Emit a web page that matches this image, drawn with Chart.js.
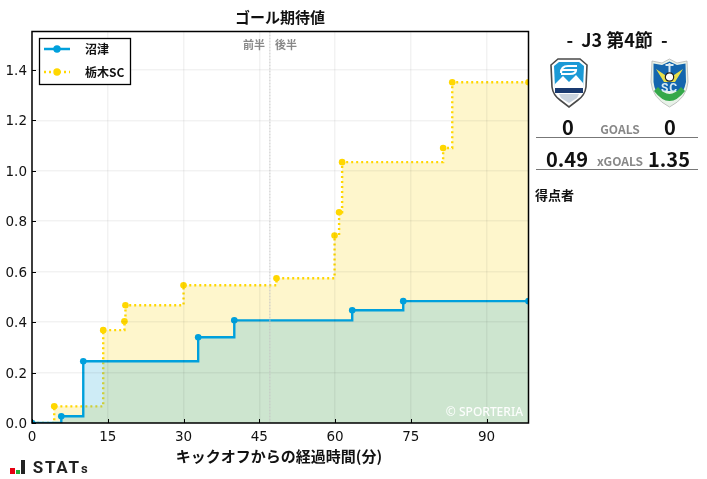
<!DOCTYPE html>
<html lang="ja">
<head>
<meta charset="utf-8">
<script src="https://cdn.jsdelivr.net/npm/chart.js@4"></script>
<style>
body { margin: 0; background: #fff; font-family: "Noto Sans CJK JP", sans-serif; }
#wrap { position: relative; width: 707px; height: 479px; overflow: hidden; }
canvas { position: absolute; left: 0; top: 0; }
.t { position: absolute; transform: translate(-50%, -50%); font-weight: 700; color: #111; white-space: nowrap; line-height: 1; }
.g { color: #888; font-size: 12px; }
.n { font-size: 20px; }
.hr { position: absolute; left: 536px; width: 162px; height: 1px; background: #777; }
svg { position: absolute; }
</style>
</head>
<body>
<div id="wrap">
  <canvas id="xgChart" width="707" height="479"></canvas>
  <div class="t" style="left:617px;top:39px;font-size:18px;">-&nbsp; J3 第4節 &nbsp;-</div>

  <!-- エンブレム(簡略) -->
  <svg style="left:550px;top:57px" width="38" height="51" viewBox="0 0 38 51">
    <path d="M8 2 L30 2 L37 8 L36 30 Q35 38 28 43 L19 50 L10 43 Q3 38 2 30 L1 8 Z" fill="#fff" stroke="#4a4a4a" stroke-width="1.6"/>
    <path d="M9 5 L29 5 L34 9 L33 31 L5 31 L4 9 Z" fill="#1c9ad6"/>
    <path d="M5 31 L5 27 L13 19 L19 25 L26 18 L33 26 L33 31 Z" fill="#fff"/>
    <path d="M11 16 Q11 9 18 9 L27 9 M12 13 L26 13 Q26 17 20 17 L11 17" fill="none" stroke="#fff" stroke-width="2.2"/>
    <rect x="5" y="31" width="28" height="5" fill="#1a3a70"/>
    <path d="M9 37 L29 37 L27 41 L19 46 L11 41 Z" fill="#c9d3de"/>
  </svg>
  <svg style="left:650px;top:58px" width="39" height="50" viewBox="0 0 39 50">
    <path d="M19.5 1 L27 5 L37 3 L38 24 Q37 40 19.5 49 Q2 40 1 24 L2 3 L12 5 Z" fill="#e8f2e8" stroke="#b5b5b5" stroke-width="0.8"/>
    <path d="M19.5 3.5 L27 7 L35.5 5.5 L36 24 Q35 29 33 33 L6 33 Q4 29 3.5 24 L3.5 5.5 L12 7 Z" fill="#1466ae"/>
    <path d="M6 11 L19.5 20 L33 11 L25 24 L14 24 Z" fill="#e9e04a"/>
    <rect x="18.5" y="5" width="2" height="11" fill="#d8e8f0"/>
    <rect x="15.5" y="6" width="8" height="2" fill="#d8e8f0"/>
    <circle cx="19.5" cy="19" r="4.2" fill="#fff" stroke="#222" stroke-width="1.2"/>
    <path d="M4 33 Q19.5 53 35 33 L31 29 Q19.5 43 8 29 Z" fill="#35a84a"/>
    <text x="19.5" y="34" text-anchor="middle" font-size="12" font-weight="700" fill="#d5eaf5" font-family="Roboto" letter-spacing="1">SC</text>
  </svg>

  <div class="t n" style="left:568px;top:127px;">0</div>
  <div class="t g" style="left:620px;top:129px;">GOALS</div>
  <div class="t n" style="left:670px;top:127px;">0</div>
  <div class="hr" style="top:137px;"></div>
  <div class="t n" style="left:567px;top:159px;">0.49</div>
  <div class="t g" style="left:620px;top:161px;">xGOALS</div>
  <div class="t n" style="left:669px;top:159px;">1.35</div>
  <div class="hr" style="top:169px;"></div>
  <div class="t" style="left:554.5px;top:194px;font-size:13px;">得点者</div>

  <!-- ロゴ -->
  <div style="position:absolute;left:10px;top:468px;width:5px;height:6px;background:#e60012;"></div>
  <div style="position:absolute;left:16px;top:470px;width:4px;height:4px;background:#22ac38;"></div>
  <div style="position:absolute;left:21px;top:460px;width:4px;height:14px;background:#222;"></div>
  <div class="t" style="left:61px;top:467px;font:700 17px 'Roboto';letter-spacing:1.8px;color:#222;">STAT<span style="font-size:13px">s</span></div>
</div>

<script>
// 経過時間(分)と累積xG
const numazuMin = [0, 5.8, 10.15, 32.9, 40.05, 63.4, 73.5, 98.3];
const numazuXg = [0, 0.027, 0.245, 0.34, 0.407, 0.447, 0.483, 0.483];
const tochigiMin = [0, 4.4, 14.1, 18.3, 18.5, 30, 48.4, 59.9, 60.8, 61.4, 81.4, 83.2, 98.3];
const tochigiXg = [0, 0.066, 0.368, 0.403, 0.467, 0.546, 0.574, 0.743, 0.835, 1.034, 1.09, 1.351, 1.351];
const xTicks = [0, 15, 30, 45, 60, 75, 90];
const yTicks = [0, 0.2, 0.4, 0.6, 0.8, 1.0, 1.2, 1.4];
const halfTime = 47.1;

const BLUE = '#00a0dc';
const YELLOW = '#ffd700';
const FONT_JP = '"Noto Sans CJK JP", sans-serif';

function toPoints(xs, ys) {
    return xs.map(function(x, i) { return {x: x, y: ys[i]}; });
}

// タイトル、枠、内向きの目盛り、凡例など
const overlay = {
    id: 'overlay',
    afterDraw: function(chart) {
        const ctx = chart.ctx;
        const a = chart.chartArea;
        const sx = chart.scales.x;
        const sy = chart.scales.y;
        ctx.save();

        // 前半・後半の区切り
        const hx = sx.getPixelForValue(halfTime);
        ctx.strokeStyle = '#c4c4c4';
        ctx.lineWidth = 1;
        ctx.setLineDash([2, 1]);
        ctx.beginPath();
        ctx.moveTo(hx, a.top);
        ctx.lineTo(hx, a.bottom);
        ctx.stroke();
        ctx.setLineDash([]);

        // 内向きの目盛り
        ctx.strokeStyle = '#000';
        ctx.lineWidth = 1;
        ctx.beginPath();
        xTicks.forEach(function(v) {
            const p = Math.round(sx.getPixelForValue(v)) + 0.5;
            ctx.moveTo(p, a.bottom);
            ctx.lineTo(p, a.bottom - 4);
        });
        yTicks.forEach(function(v) {
            const p = Math.round(sy.getPixelForValue(v)) + 0.5;
            ctx.moveTo(a.left, p);
            ctx.lineTo(a.left + 4, p);
        });
        ctx.stroke();

        // 枠
        ctx.lineWidth = 1.5;
        ctx.strokeRect(a.left, a.top, a.right - a.left, a.bottom - a.top);

        ctx.textBaseline = 'middle';
        ctx.textAlign = 'center';
        ctx.fillStyle = '#111';
        ctx.font = '700 15px ' + FONT_JP;
        ctx.fillText('ゴール期待値', 280, 17);
        ctx.fillText('キックオフからの経過時間(分)', 279, 456);

        ctx.fillStyle = '#888';
        ctx.font = '700 11px ' + FONT_JP;
        ctx.fillText('前半', 254, 45);
        ctx.fillText('後半', 286, 45);

        ctx.fillStyle = 'rgba(255,255,255,0.95)';
        ctx.font = '500 12px "Noto Sans", sans-serif';
        ctx.textAlign = 'right';
        ctx.fillText('© SPORTERIA', 523, 413);

        // 凡例
        ctx.fillStyle = '#fff';
        ctx.fillRect(39.5, 38.5, 91, 46);
        ctx.strokeStyle = '#000';
        ctx.lineWidth = 1.3;
        ctx.strokeRect(39.5, 38.5, 91, 46);
        ctx.lineWidth = 2.5;
        ctx.strokeStyle = BLUE;
        ctx.beginPath();
        ctx.moveTo(44, 49);
        ctx.lineTo(70, 49);
        ctx.stroke();
        ctx.strokeStyle = YELLOW;
        ctx.setLineDash([2, 3]);
        ctx.beginPath();
        ctx.moveTo(44, 72);
        ctx.lineTo(70, 72);
        ctx.stroke();
        ctx.setLineDash([]);
        ctx.fillStyle = BLUE;
        ctx.beginPath();
        ctx.arc(57, 49, 3.7, 0, Math.PI * 2);
        ctx.fill();
        ctx.fillStyle = YELLOW;
        ctx.beginPath();
        ctx.arc(57, 72, 3.7, 0, Math.PI * 2);
        ctx.fill();
        ctx.fillStyle = '#111';
        ctx.font = '700 12px ' + FONT_JP;
        ctx.textAlign = 'left';
        ctx.fillText('沼津', 85, 49);
        ctx.fillText('栃木SC', 85, 72);

        ctx.restore();
    }
};

new Chart(document.getElementById('xgChart'), {
    type: 'line',
    data: {
        datasets: [{
            label: '沼津',
            data: toPoints(numazuMin, numazuXg),
            stepped: true,
            borderColor: BLUE,
            borderWidth: 2.4,
            backgroundColor: 'rgba(60,178,220,0.25)',
            pointBackgroundColor: BLUE,
            pointBorderWidth: 0,
            pointRadius: 3.3,
            fill: 'origin'
        }, {
            label: '栃木SC',
            data: toPoints(tochigiMin, tochigiXg),
            stepped: true,
            borderColor: YELLOW,
            borderWidth: 2.4,
            borderDash: [2, 3],
            backgroundColor: 'rgba(250,220,50,0.25)',
            pointBackgroundColor: YELLOW,
            pointBorderWidth: 0,
            pointRadius: 3.3,
            fill: 'origin'
        }]
    },
    options: {
        responsive: false,
        animation: false,
        layout: {padding: {left: 0, top: 31.5, right: 178.5, bottom: 0}},
        plugins: {legend: {display: false}, title: {display: false}, tooltip: {enabled: false}},
        scales: {
            x: {
                type: 'linear',
                min: 0,
                max: 98.3,
                afterFit: function(s) { s.height = 56; },
                afterBuildTicks: function(s) { s.ticks = xTicks.map(function(v) { return {value: v}; }); },
                border: {display: false},
                grid: {color: 'rgba(0,0,0,0.05)', lineWidth: 1.5, drawTicks: false, z: 1},
                ticks: {
                    color: '#111',
                    padding: 6,
                    maxRotation: 0,
                    font: {family: '"DejaVu Sans"', size: 13.5}
                }
            },
            y: {
                min: 0,
                max: 1.552,
                afterFit: function(s) { s.width = 32; },
                afterBuildTicks: function(s) { s.ticks = yTicks.map(function(v) { return {value: v}; }); },
                border: {display: false},
                grid: {color: 'rgba(0,0,0,0.05)', lineWidth: 1.5, drawTicks: false, z: 1},
                ticks: {
                    color: '#111',
                    padding: 5,
                    labelOffset: 1.5,
                    font: {family: '"DejaVu Sans"', size: 13.5},
                    callback: function(v) { return v.toFixed(1); }
                }
            }
        }
    },
    plugins: [overlay]
});
</script>
</body>
</html>
